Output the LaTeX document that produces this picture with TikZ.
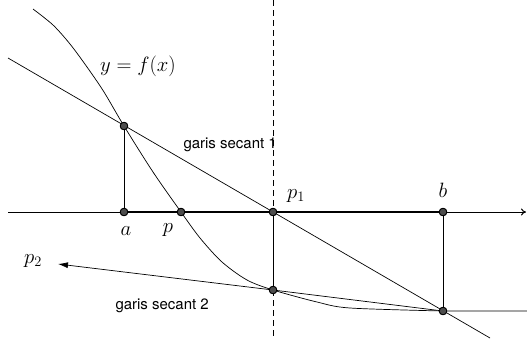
\documentclass[tikz,border=0pt]{standalone}
\usepackage{fontspec}
\newfontfamily\labelsans{TeX Gyre Heros}
\usetikzlibrary{arrows.meta}
\begin{document}
\begin{tikzpicture}[x=1pt,y=-1pt,
  thinline/.style={line width=0.7pt},
  dot/.style={circle,fill=black!70,draw=black,line width=0.8pt,inner sep=0pt,minimum size=7.5pt},
  mathlbl/.style={font=\fontsize{19.5}{22}\selectfont},
  sanslbl/.style={font=\labelsans\fontsize{15}{17}\selectfont}]
\useasboundingbox (0,0) rectangle (527,338);
% coordinates
\coordinate (axl) at (8,212);
\coordinate (axr) at (526,212);
\coordinate (dtop) at (273,0);
\coordinate (dbot) at (273,338);
\coordinate (s1l) at (8,58);
\coordinate (s1r) at (490,338);
\coordinate (tail) at (527,311);
\coordinate (p2tip) at (58,264);
% dashed vertical
\draw[thinline,dash pattern=on 6pt off 4pt] (dtop) -- (dbot);
% axis
\draw[line width=1pt,-{To[length=5pt,width=7pt]}] (axl) -- (axr);
% curve
\draw[thinline] plot[smooth,tension=0.5] coordinates {(33,9) (53,25) (70,44) (87,67) (104,92) (124,126) (153,172) (181,212) (200,238) (222,262) (247,280) (273,290) (317,302) (350,308) (443,311)} -- (tail);
% secant 1
\draw[thinline] (s1l) -- (s1r);
% nodes
\node[dot] (fa) at (124,126) {};
\node[dot] (a) at (124,212) {};
\node[dot] (p) at (181,212) {};
\node[dot] (p1) at (273,212) {};
\node[dot] (b) at (443,212) {};
\node[dot] (fp1) at (273,290) {};
\node[dot] (fb) at (443,311) {};
% thick segment a-b
\draw[line width=1.8pt] (a) -- (b);
% verticals
\draw[thinline] (fa) -- (a);
\draw[thinline] (b) -- (fb);
\draw[line width=1pt] (p1) -- (fp1);
% secant 2
\draw[thinline,-{Latex[length=10pt,width=6pt]}] (fb) -- (fp1) -- (p2tip);
% redraw dots on top
\foreach \x/\y in {124/126, 124/212, 181/212, 273/212, 443/212, 273/290, 443/311}
  \node[dot] at (\x,\y) {};
% labels
\node[mathlbl] (lf) at (138,66) {$y=f(x)$};
\node[sanslbl,anchor=west] (ls1) at (180,145) {garis secant 1};
\node[sanslbl,anchor=west] (ls2) at (112,306) {garis secant 2};
\node[mathlbl] (la) at (126,231) {$a$};
\node[mathlbl] (lp) at (168,230) {$p$};
\node[mathlbl] (lp1) at (296,196) {$p_1$};
\node[mathlbl] (lb) at (443,190) {$b$};
\node[mathlbl] (lp2) at (33,261) {$p_2$};
\end{tikzpicture}
\end{document}
